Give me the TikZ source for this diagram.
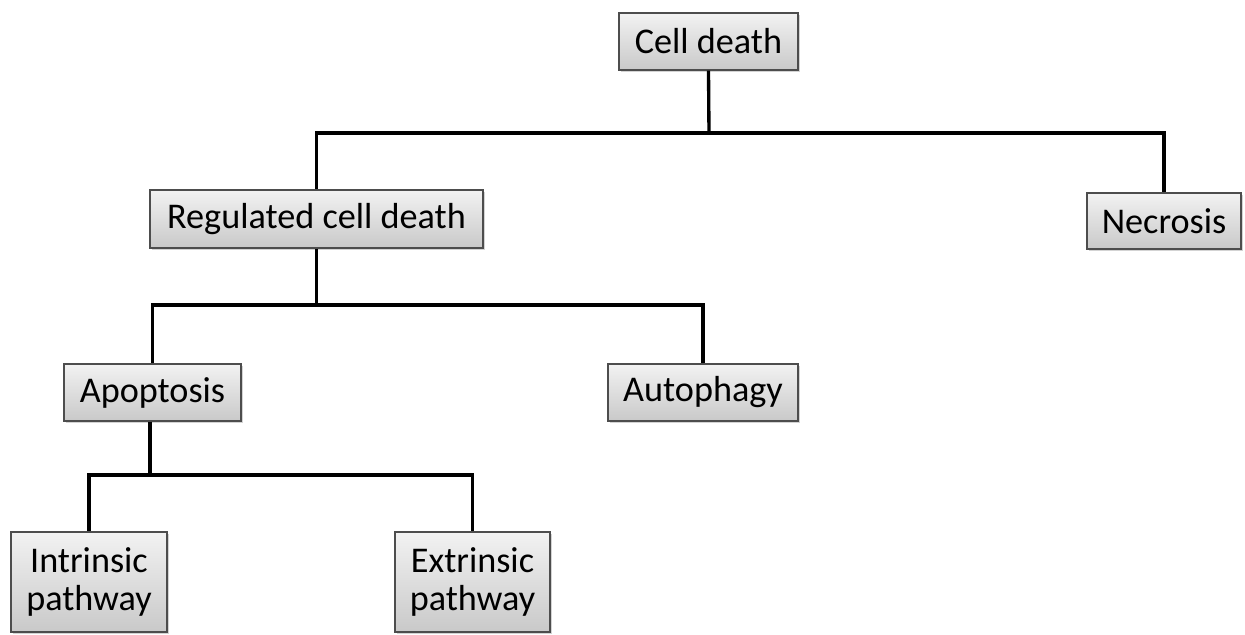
\documentclass[tikz,border=0pt]{standalone}
\usepackage{fontspec}
\setmainfont{Carlito}
\usetikzlibrary{positioning, shadows}
\definecolor{boxtop}{HTML}{F2F2F2}
\definecolor{boxbottom}{HTML}{C9C9C9}
\definecolor{boxborder}{HTML}{4D4D4D}

\begin{document}
\begin{tikzpicture}[
    cbox/.style={draw=boxborder, line width=0.8pt, top color=boxtop, bottom color=boxbottom,
                 minimum height=1.14cm, inner sep=2pt, align=center,
                 font=\fontsize{20.6}{22}\selectfont,
                 drop shadow={shadow xshift=0.04cm, shadow yshift=-0.04cm, opacity=0.35}},
    link/.style={line width=1.9pt, black},
]
\useasboundingbox (0,0) rectangle (24.9,12.7);

% ============================================================
% Top level
% ============================================================
\node[cbox, minimum width=3.58cm] (cell) at (14.17,11.87) {Cell death};
\node[cbox, minimum width=6.66cm, minimum height=1.16cm] (reg) at (6.33,8.32) {Regulated cell death};
\node[cbox, minimum width=3.08cm, minimum height=1.12cm] (necro) at (23.28,8.28) {Necrosis};

% ============================================================
% Regulated cell death branches
% ============================================================
\node[cbox, minimum width=3.54cm] (apop) at (3.05,4.85) {Apoptosis};
\node[cbox, minimum width=3.8cm] (auto) at (14.06,4.85) {Autophagy};

% ============================================================
% Apoptosis pathways
% ============================================================
\node[cbox, minimum width=3.12cm, minimum height=2cm] (intr) at (1.78,1.06) {Intrinsic\\pathway};
\node[cbox, minimum width=3.1cm, minimum height=2cm] (extr) at (9.45,1.06) {Extrinsic\\pathway};

% junctions
\coordinate (j1) at (14.18,10.04);
\coordinate (j2) at (6.33,6.6);
\coordinate (j3) at (3.0,3.2);

\draw[link] (cell.south) -- (j1);
\draw[link] (j1) -| (reg.north);
\draw[link] (j1) -| (necro.north);

\draw[link] (reg.south) -- (j2);
\draw[link] (j2) -| (apop.north);
\draw[link] (j2) -| (auto.north);

\draw[link] (apop.south -| j3) -- (j3);
\draw[link] (j3) -| (intr.north);
\draw[link] (j3) -| (extr.north);

\end{tikzpicture}
\end{document}
